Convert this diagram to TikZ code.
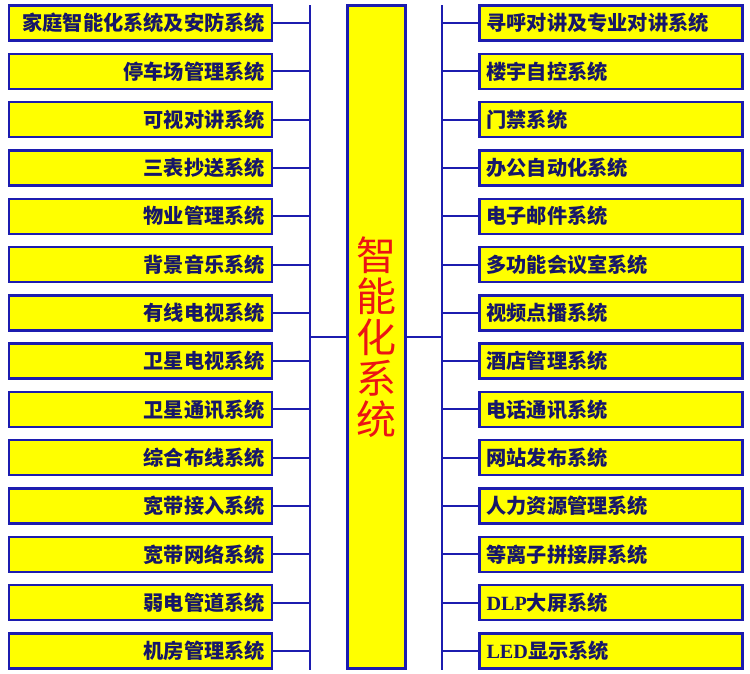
\documentclass[tikz,border=0pt]{standalone}
\usepackage{fontspec}
\newfontfamily\cjk{Noto Sans CJK SC}
\newfontfamily\latinf{Liberation Serif}
\definecolor{bord}{RGB}{28,28,175}
\definecolor{txt}{RGB}{22,22,105}
\definecolor{yel}{RGB}{255,255,0}
\definecolor{redt}{RGB}{235,20,20}
\tikzset{
  sysbox/.style={draw=bord, line width=2.4pt, fill=yel, minimum width=263pt, minimum height=35pt,
     inner xsep=7pt, inner ysep=0pt, text width=249pt, text=txt, font=\cjk\bfseries\fontsize{20.2}{22}\selectfont},
  lbox/.style={sysbox, align=right},
  rbox/.style={sysbox, align=left},
  bus/.style={draw=bord, line width=2pt},
}
\begin{document}
\begin{tikzpicture}[x=1pt,y=-1pt]
\useasboundingbox (0,0) rectangle (750,673);
\coordinate (ltop) at (310,5);
\coordinate (lbot) at (310,670);
\coordinate (rtop) at (442,5);
\coordinate (rbot) at (442,670);
\draw[bus] (ltop) -- (lbot);
\draw[bus] (rtop) -- (rbot);
\node[draw=bord, line width=2.4pt, fill=yel, minimum width=58pt, minimum height=663pt, inner sep=0pt,
      text=redt, align=center, font=\cjk\fontsize{40}{41}\selectfont] (C) at (376.5,337)
      {智\\能\\化\\系\\统};
\draw[bus] (C.west) -- (C.west -| ltop);
\draw[bus] (C.east) -- (C.east -| rtop);
\foreach \t [count=\i from 0] in {家庭智能化系统及安防系统, 停车场管理系统, 可视对讲系统, 三表抄送系统, 物业管理系统, 背景音乐系统, 有线电视系统, 卫星电视系统, 卫星通讯系统, 综合布线系统, 宽带接入系统, 宽带网络系统, 弱电管道系统, 机房管理系统}{
  \node[lbox] (L\i) at (140.5, 23+48.3*\i) {\t};
  \draw[bus] (L\i.east) -- (L\i.east -| ltop);
}
\foreach \t [count=\i from 0] in {寻呼对讲及专业对讲系统, 楼宇自控系统, 门禁系统, 办公自动化系统, 电子邮件系统, 多功能会议室系统, 视频点播系统, 酒店管理系统, 电话通讯系统, 网站发布系统, 人力资源管理系统, 等离子拼接屏系统, {{\latinf\bfseries DLP}大屏系统}, {{\latinf\bfseries LED}显示系统}}{
  \node[rbox] (R\i) at (611, 23+48.3*\i) {\t};
  \draw[bus] (R\i.west) -- (R\i.west -| rtop);
}
\end{tikzpicture}
\end{document}
